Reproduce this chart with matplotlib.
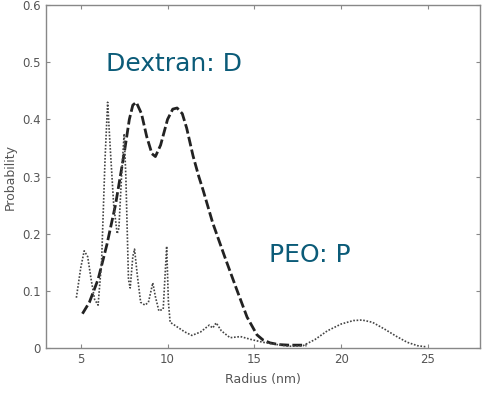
import matplotlib
matplotlib.use("Agg")
import matplotlib.pyplot as plt

# Dextran (dashed) distribution
dex_x = [5.1, 5.5, 6.0, 6.5, 7.0, 7.5, 7.8, 8.0, 8.2, 8.5, 8.8, 9.1, 9.3, 9.6,
         10.0, 10.3, 10.55, 10.85, 11.1, 11.47, 11.8, 12.05, 12.6, 13.3, 14.0,
         14.58, 15.15, 15.5, 15.9, 16.4, 17.0, 17.5, 18.0]
dex_y = [0.06, 0.08, 0.12, 0.18, 0.25, 0.34, 0.40, 0.425, 0.43, 0.41, 0.37, 0.34,
         0.335, 0.355, 0.40, 0.418, 0.42, 0.41, 0.385, 0.336, 0.30, 0.276, 0.219,
         0.159, 0.101, 0.054, 0.023, 0.014, 0.009, 0.006, 0.005, 0.005, 0.005]

# PEO (dotted) distribution
peo_x = [4.75, 5.0, 5.2, 5.4, 5.6, 5.8, 6.0, 6.2, 6.4, 6.55, 6.7, 6.9, 7.1, 7.2,
         7.35, 7.5, 7.6, 7.75, 7.85, 8.0, 8.1, 8.25, 8.45, 8.7, 8.9, 9.15, 9.3,
         9.5, 9.75, 9.95, 10.05, 10.15, 10.5, 11.0, 11.4, 11.9, 12.4, 12.6, 12.8,
         13.1, 13.6, 14.2, 14.8, 15.5, 16.3, 17.0, 17.8, 18.5, 19.2, 20.0, 20.7,
         21.2, 21.8, 22.5, 23.2, 23.8, 24.4, 24.9]
peo_y = [0.088, 0.14, 0.17, 0.16, 0.12, 0.085, 0.075, 0.15, 0.33, 0.43, 0.35, 0.25,
         0.20, 0.21, 0.30, 0.375, 0.30, 0.12, 0.105, 0.16, 0.173, 0.13, 0.08, 0.075,
         0.08, 0.114, 0.09, 0.065, 0.068, 0.178, 0.08, 0.045, 0.038, 0.028, 0.022,
         0.028, 0.04, 0.035, 0.044, 0.03, 0.018, 0.02, 0.015, 0.01, 0.006, 0.003,
         0.004, 0.015, 0.03, 0.042, 0.048, 0.049, 0.045, 0.033, 0.02, 0.01, 0.004,
         0.002]

x_ticks = [5, 10, 15, 20, 25]
y_ticks = [0, 0.1, 0.2, 0.3, 0.4, 0.5, 0.6]
y_tick_labels = ["0", "0.1", "0.2", "0.3", "0.4", "0.5", "0.6"]

fig = plt.figure(figsize=(4.84, 3.93), dpi=100)
ax = fig.add_axes([0.095, 0.1145, 0.897, 0.8725])

ax.plot(dex_x, dex_y, color="#222222", lw=2.0, linestyle=(0, (3.5, 1.2)))
ax.plot(peo_x, peo_y, color="#444444", lw=1.2, linestyle=(0, (1, 1)))

ax.set_xlim(3, 28)
ax.set_ylim(0, 0.6)
ax.set_xticks(x_ticks)
ax.set_yticks(y_ticks)
ax.set_yticklabels(y_tick_labels)

for s in ax.spines.values():
    s.set_color("#888888")
    s.set_linewidth(1.0)
ax.tick_params(direction="in", length=3, width=0.8, colors="#888888",
               labelcolor="#555555", labelsize=8.5, top=True, right=True)
ax.set_xlabel("Radius (nm)", fontsize=9, color="#555555", labelpad=5)
ax.set_ylabel("Probability", fontsize=9, color="#555555", labelpad=4)

teal = "#0b5b78"
ax.text(10.37, 0.497, "Dextran: D", fontsize=18, color=teal, ha="center", va="center")
ax.text(18.2, 0.162, "PEO: P", fontsize=18, color=teal, ha="center", va="center")

fig.savefig("out.png", dpi=100)
